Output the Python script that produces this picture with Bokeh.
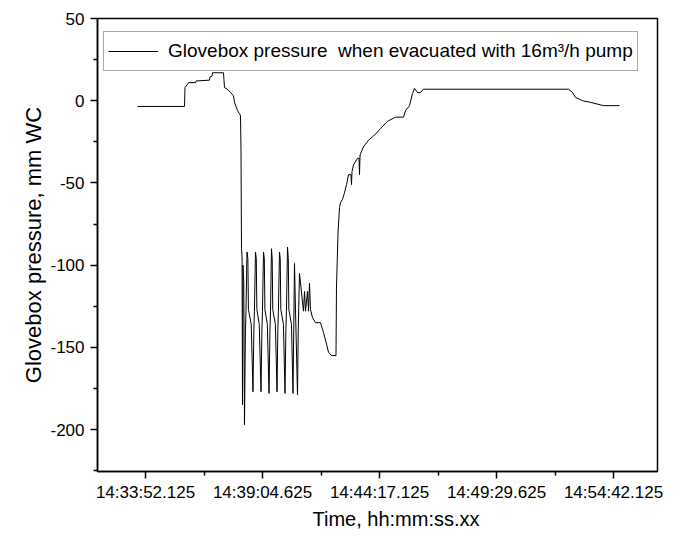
from bokeh.plotting import figure
from bokeh.models import FixedTicker, Range1d, Legend, LegendItem, Title
from bokeh.embed import file_html
from bokeh.resources import INLINE

# Time in seconds after 14:30:00, glovebox pressure in mm WC
time_s = [
    210.7, 336.3, 337.6, 344.3, 347.0, 365.7, 367.0, 403.0, 404.4, 409.7, 411.1,
    440.4, 443.1, 451.1, 459.1, 467.1, 469.8, 477.8, 483.2, 485.8,
    487.2, 488.5, 490.0, 491.2, 492.5, 494.5, 496.5,
    499.0, 500.5, 503.2, 505.5, 507.0, 514.5, 519.2,
    521.5, 523.0, 525.9, 528.0, 529.5, 536.0, 540.6,
    543.0, 544.5, 547.3, 549.5, 551.0, 557.5, 562.0,
    564.5, 566.0, 568.6, 570.5, 572.0, 579.0, 583.4,
    585.5, 587.0, 590.0, 592.0, 593.5, 600.5, 604.7,
    607.0, 608.5, 611.4, 613.5, 615.0, 622.0, 626.1,
    628.0, 630.1, 632.0, 638.1, 640.0, 643.4, 654.1,
    656.8, 659.5, 664.8, 667.5, 670.1, 672.8, 678.2, 686.2, 699.5, 707.5,
    715.6, 720.9, 728.9, 740.9,
    742.2, 746.3, 750.3, 752.9, 758.3, 763.6, 769.0, 774.3, 781.0, 782.3,
    783.7, 787.7, 798.4, 802.4, 803.7, 805.1, 814.4, 827.7, 841.1, 859.8,
    878.5, 899.9, 921.2, 926.6, 937.2, 945.3, 950.6, 958.6, 966.6, 974.6,
    1361.9, 1372.6, 1380.6, 1399.3, 1420.7, 1455.4, 1498.2,
]
pressure = [
    -3.5, -3.5, 8, 10, 11, 11, 12, 12.5, 14.5, 15, 17,
    17, 8, 7, 5, 3, -1, -6, -8, -9,
    -30, -90, -95, -185, -100, -110, -197,
    -140, -128, -92, -96, -127, -136, -177,
    -140, -128, -92, -96, -127, -136, -177,
    -140, -128, -92, -96, -127, -136, -178,
    -140, -128, -90, -96, -127, -136, -177,
    -140, -128, -92, -96, -127, -136, -178,
    -140, -128, -89, -96, -127, -136, -178,
    -140, -99, -120, -179, -140, -105, -128,
    -116, -128, -116, -128, -111, -127, -132, -135, -135, -141,
    -148, -153, -155, -155,
    -114, -80, -65, -62, -60, -56, -51, -45, -45, -51,
    -43, -39, -35, -35, -45, -33, -28, -24, -21.5, -17,
    -12.5, -10, -10, -6, -3, 4.5, 7.5, 5, 5, 7,
    7, 5, 2, 0, -1, -3, -3,
]

x_tick_seconds = [232.125, 544.625, 857.125, 1169.625, 1482.125]
x_tick_labels = ["14:33:52.125", "14:39:04.625", "14:44:17.125", "14:49:29.625", "14:54:42.125"]
x_minor_seconds = [388.375, 700.875, 1013.375, 1325.875]
y_major = [-200, -150, -100, -50, 0, 50]
y_tick_labels = ["-200", "-150", "-100", "-50", "0", "50"]
y_minor = [-225, -175, -125, -75, -25, 25]

legend_label = "Glovebox pressure  when evacuated with 16m³/h pump"
x_title = "Time, hh:mm:ss.xx"
y_title = "Glovebox pressure, mm WC"
FONT = "Liberation Sans"

p = figure(width=675, height=531,
           x_range=Range1d(103.9, 1599.6), y_range=Range1d(-225.5, 50),
           output_backend="svg", toolbar_location=None,
           min_border_left=97, min_border_right=18, min_border_top=18, min_border_bottom=60)

p.xgrid.visible = False
p.ygrid.visible = False
p.outline_line_color = "black"
p.outline_line_width = 1.5
p.background_fill_color = "white"
p.border_fill_color = "white"

r = p.line(time_s, pressure, line_color="black", line_width=1)

p.xaxis.ticker = FixedTicker(ticks=x_tick_seconds, minor_ticks=x_minor_seconds)
p.xaxis.major_label_overrides = {t: l for t, l in zip(x_tick_seconds, x_tick_labels)}
p.yaxis.ticker = FixedTicker(ticks=y_major, minor_ticks=y_minor)
p.yaxis.major_label_overrides = {t: l for t, l in zip(y_major, y_tick_labels)}

for ax in (p.xaxis[0], p.yaxis[0]):
    ax.axis_line_color = "black"
    ax.axis_line_width = 1.5
    ax.major_tick_line_color = "black"
    ax.major_tick_line_width = 1.5
    ax.minor_tick_line_color = "black"
    ax.minor_tick_line_width = 1.5
    ax.major_tick_out = 7
    ax.major_tick_in = 0
    ax.minor_tick_out = 4
    ax.minor_tick_in = 0
    ax.major_label_text_font = FONT
    ax.major_label_text_font_size = "17px"
    ax.major_label_text_color = "black"

p.xaxis.major_label_standoff = 4
p.yaxis.major_label_standoff = 6

# Axis titles sit slightly off the frame centre in the original
p.add_layout(Title(text=x_title, align="left", offset=215, standoff=2,
                   text_font=FONT, text_font_size="20px", text_font_style="normal",
                   text_color="black"), "below")
p.add_layout(Title(text=y_title, align="center", offset=14, standoff=4,
                   text_font=FONT, text_font_size="22px", text_font_style="normal",
                   text_color="black"), "left")

legend = Legend(items=[LegendItem(label=legend_label, renderers=[r])],
                location=(6, 400), margin=0, padding=4,
                glyph_width=50, glyph_height=30, label_height=30, label_standoff=10,
                label_text_font=FONT, label_text_font_size="19px", label_text_color="black",
                border_line_color="#555555", border_line_width=1,
                background_fill_color="white", background_fill_alpha=1)
p.add_layout(legend)

open("out.html", "w").write(file_html(p, INLINE))
